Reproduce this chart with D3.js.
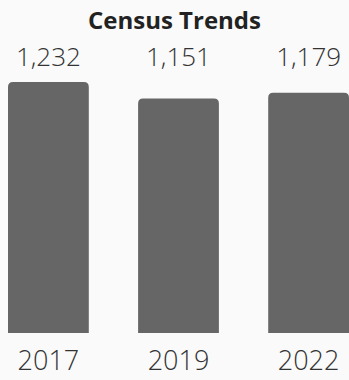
<!DOCTYPE html>
<html>
<head>
<meta charset="utf-8">
<script src="https://cdn.jsdelivr.net/npm/d3@7"></script>
<style>
  body { margin: 0; background: #fafafa; }
  text { font-family: "Open Sans", sans-serif; }
</style>
</head>
<body>
<div id="chart"></div>
<script>
var years = ["2017", "2019", "2022"];
var counts = [1232, 1151, 1179];

var width = 349,
    height = 380;

var svg = d3.select("#chart")
    .append("svg")
    .attr("width", width)
    .attr("height", height);

var x = d3.scaleBand()
    .domain(years)
    .range([8, 349])
    .paddingInner(0.379)
    .paddingOuter(0);

var y = d3.scaleLinear()
    .domain([0, 1232])
    .range([333, 82]);

var fmt = d3.format(",");

// title
svg.append("text")
    .attr("x", 174.5)
    .attr("y", 28.5)
    .attr("text-anchor", "middle")
    .style("font-size", "24px")
    .style("font-weight", 700)
    .style("fill", "#222")
    .text("Census Trends");

// bars with rounded top corners
var r = 5;
svg.selectAll(".bar")
    .data(counts)
    .enter().append("path")
    .attr("class", "bar")
    .attr("fill", "#666666")
    .attr("d", function(d, i) {
        var x0 = x(years[i]), x1 = x0 + x.bandwidth(),
            y0 = y(d), y1 = y(0);
        return "M" + x0 + "," + y1 +
            "V" + (y0 + r) +
            "Q" + x0 + "," + y0 + " " + (x0 + r) + "," + y0 +
            "H" + (x1 - r) +
            "Q" + x1 + "," + y0 + " " + x1 + "," + (y0 + r) +
            "V" + y1 + "Z";
    });

// value labels
svg.selectAll(".val")
    .data(counts)
    .enter().append("text")
    .attr("class", "val")
    .attr("x", function(d, i) { return x(years[i]) + x.bandwidth() / 2; })
    .attr("y", 65.5)
    .attr("text-anchor", "middle")
    .style("font-size", "26px")
    .style("font-weight", 300)
    .style("fill", "#333")
    .text(function(d) { return fmt(d); });

// year labels
svg.selectAll(".yr")
    .data(years)
    .enter().append("text")
    .attr("class", "yr")
    .attr("x", function(d) { return x(d) + x.bandwidth() / 2; })
    .attr("y", 370)
    .attr("text-anchor", "middle")
    .style("font-size", "27px")
    .style("font-weight", 300)
    .style("fill", "#333")
    .text(function(d) { return d; });
</script>
</body>
</html>
